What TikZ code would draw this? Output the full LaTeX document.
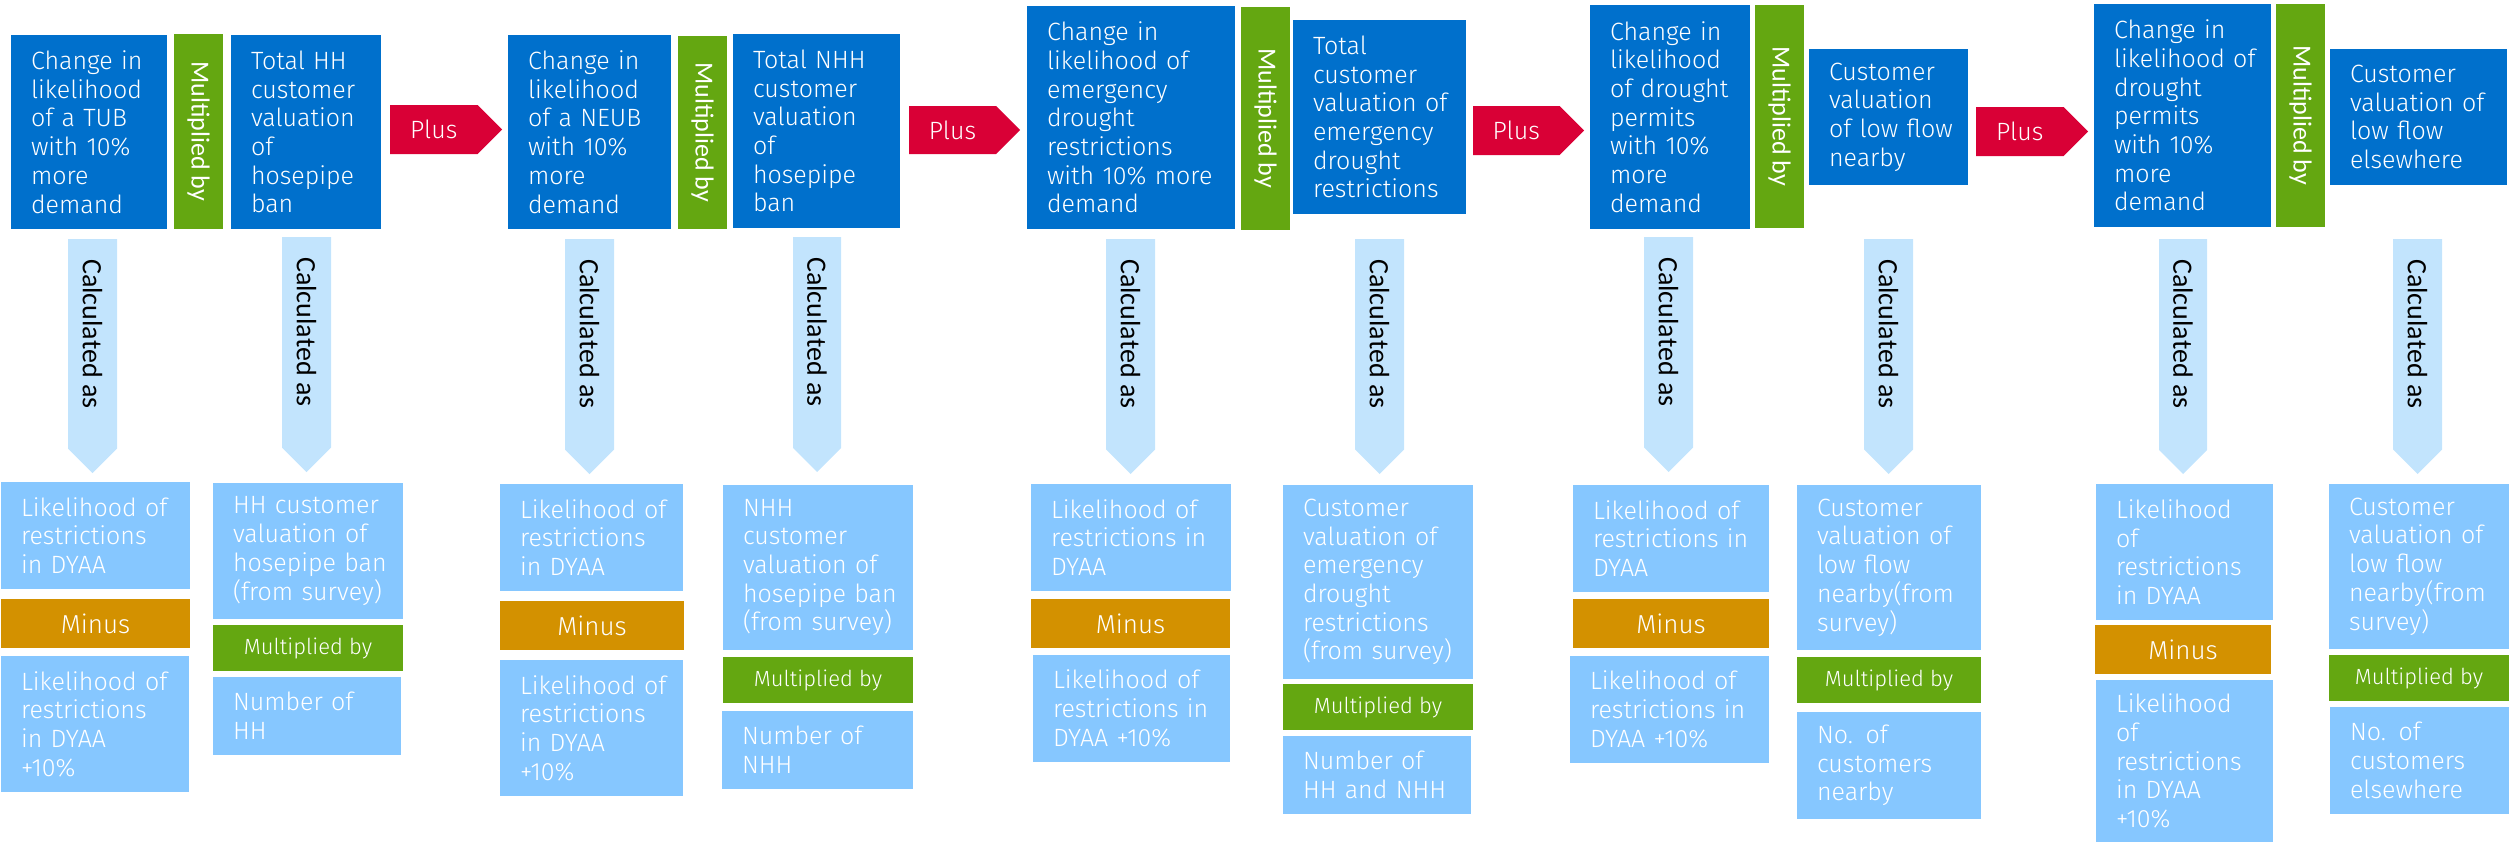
\documentclass[tikz,border=0pt]{standalone}
\usepackage{fontspec}
\IfFontExistsTF{Fira Sans Light}
  {\setmainfont{Fira Sans Light}}
  {\IfFontExistsTF{FiraSans-Light.otf}
    {\setmainfont{FiraSans-Light.otf}}
    {\setmainfont{Fira Sans}}}
\newfontfamily\narrowfont{Carlito}
\begin{document}
\begin{tikzpicture}[x=1pt,y=-1pt]
\definecolor{deepblue}{RGB}{0,112,204}
\definecolor{leafgreen}{RGB}{100,167,17}
\definecolor{plusred}{RGB}{217,0,54}
\definecolor{skyblue}{RGB}{134,199,255}
\definecolor{paleblue}{RGB}{194,228,253}
\definecolor{ochre}{RGB}{211,145,0}
\tikzset{
  blk/.style={inner xsep=0pt, inner ysep=0pt, align=left, text=white,
    font=\fontsize{25}{28.7}\selectfont},
  topbox/.style={blk, fill=deepblue},
  subbox/.style={blk, fill=skyblue},
  tag/.style={inner sep=0pt, align=center, text=white},
  minusbar/.style={tag, fill=ochre, font=\fontsize{26}{30}\selectfont},
  multbar/.style={tag, fill=leafgreen, font=\fontsize{22}{26}\selectfont},
  multcol/.style={tag, fill=leafgreen, rotate=-90, font=\narrowfont\fontsize{26}{30}\selectfont},
  pluslabel/.style={inner sep=0pt, text=white, font=\fontsize{25}{30}\selectfont},
  calclabel/.style={inner sep=0pt, text=black, rotate=-90, anchor=west,
    font=\narrowfont\fontsize{28}{32}\selectfont},
}
% text box: style, name, x1, y1, x2, y2, text (20pt left padding)
\newcommand\Blk[7]{%
  \pgfmathsetmacro\bw{#5-#3}%
  \pgfmathsetmacro\bh{#6-#4}%
  \pgfmathsetmacro\bx{(#3+#5)/2}%
  \pgfmathsetmacro\by{(#4+#6)/2}%
  \pgfmathsetmacro\tw{#5-#3-20}%
  \node[#1, minimum width=\bw pt, minimum height=\bh pt, text width=\tw pt]
    (#2) at (\bx,\by) {\leftskip=10pt\relax #7\par};}
% centred operator bar: style, name, x1, y1, x2, y2, text
\newcommand\Bar[7]{%
  \pgfmathsetmacro\bw{#5-#3}%
  \pgfmathsetmacro\bh{#6-#4}%
  \pgfmathsetmacro\bx{(#3+#5)/2}%
  \pgfmathsetmacro\by{(#4+#6)/2}%
  \node[#1, minimum width=\bw pt, minimum height=\bh pt] (#2) at (\bx,\by) {#7};}
% upright green column with text running downwards
\newcommand\Col[5]{%
  \pgfmathsetmacro\bw{#4-#2}%
  \pgfmathsetmacro\bh{#5-#3}%
  \pgfmathsetmacro\bx{(#2+#4)/2}%
  \pgfmathsetmacro\by{(#3+#5)/2}%
  \node[multcol, minimum width=\bh pt, minimum height=\bw pt] (#1) at (\bx,\by) {Multiplied by};}
% red "Plus" arrow pointing right: name, x1, y1, x2 (tip), y2
\newcommand\PlusArrow[5]{%
  \pgfmathsetmacro\hh{(#5-#3)/2}%
  \pgfmathsetmacro\cy{(#3+#5)/2}%
  \pgfmathsetmacro\tx{#4-\hh}%
  \pgfmathsetmacro\lx{(#2+\tx)/2}%
  \fill[plusred] (#2,#3) -- (\tx,#3) -- (#4,\cy) -- (\tx,#5) -- (#2,#5) -- cycle;
  \node[pluslabel] (#1) at (\lx,\cy) {Plus};}
% pale "Calculated as" arrow pointing down: name, x1, y1, x2, y2 (tip)
\newcommand\CalcArrow[5]{%
  \pgfmathsetmacro\hw{(#4-#2)/2}%
  \pgfmathsetmacro\cx{(#2+#4)/2}%
  \pgfmathsetmacro\ty{#5-\hw}%
  \fill[paleblue] (#2,#3) -- (#4,#3) -- (#4,\ty) -- (\cx,#5) -- (#2,\ty) -- cycle;
  \node[calclabel] (#1) at (\cx,#3+20) {Calculated as};}

\useasboundingbox (0,0) rectangle (2509,844);

% ---- hosepipe ban, households ----
\Blk{topbox}{a1}{11}{35}{167}{229}{Change in\\likelihood\\of a TUB\\with 10\%\\more\\demand}
\Col{g1}{174}{34}{223}{229}
\Blk{topbox}{b1}{231}{35}{381}{229}{Total HH\\customer\\valuation\\of\\hosepipe\\ban}
\PlusArrow{p1}{390}{105}{502}{154}
\CalcArrow{d1}{68}{239}{117}{473}
\CalcArrow{d2}{282}{237}{331}{472}
\Blk{subbox}{l1a}{1}{482}{190}{589}{Likelihood of\\restrictions\\in DYAA}
\Bar{minusbar}{m1}{1}{599}{190}{648}{Minus}
\Blk{subbox}{l1b}{1}{656}{189}{792}{Likelihood of\\restrictions\\in DYAA\\+10\%}
\Blk{subbox}{r1a}{213}{483}{403}{619}{HH customer\\valuation of\\hosepipe ban\\(from survey)}
\Bar{multbar}{r1m}{213}{625}{403}{671}{Multiplied by}
\Blk{subbox}{r1b}{213}{677}{401}{755}{Number of\\HH}

% ---- hosepipe ban, non-households ----
\Blk{topbox}{a2}{508}{35}{671}{229}{Change in\\likelihood\\of a NEUB\\with 10\%\\more\\demand}
\Col{g2}{678}{36}{727}{229}
\Blk{topbox}{b2}{733}{34}{900}{228}{Total NHH\\customer\\valuation\\of\\hosepipe\\ban}
\PlusArrow{p2}{909}{106}{1020}{154}
\CalcArrow{d3}{565}{239}{614}{474}
\CalcArrow{d4}{793}{237}{841}{472}
\Blk{subbox}{l2a}{500}{484}{683}{591}{Likelihood of\\restrictions\\in DYAA}
\Bar{minusbar}{m2}{500}{601}{684}{650}{Minus}
\Blk{subbox}{l2b}{500}{660}{683}{796}{Likelihood of\\restrictions\\in DYAA\\+10\%}
\Blk{subbox}{r2a}{723}{485}{913}{650}{NHH\\customer\\valuation of\\hosepipe ban\\(from survey)}
\Bar{multbar}{r2m}{723}{657}{913}{703}{Multiplied by}
\Blk{subbox}{r2b}{722}{711}{913}{789}{Number of\\NHH}

% ---- emergency drought restrictions ----
\Blk{topbox}{a3}{1027}{6}{1235}{229}{Change in\\likelihood of\\emergency\\drought\\restrictions\\with 10\% more\\demand}
\Col{g3}{1241}{7}{1290}{230}
\Blk{topbox}{b3}{1293}{20}{1466}{214}{Total\\customer\\valuation of\\emergency\\drought\\restrictions}
\PlusArrow{p3}{1473}{106}{1584}{155}
\CalcArrow{d5}{1106}{239}{1155}{474}
\CalcArrow{d6}{1355}{239}{1404}{474}
\Blk{subbox}{l3a}{1031}{484}{1231}{591}{Likelihood of\\restrictions in\\DYAA}
\Bar{minusbar}{m3}{1031}{599}{1230}{648}{Minus}
\Blk{subbox}{l3b}{1033}{655}{1230}{762}{Likelihood of\\restrictions in\\DYAA +10\%}
\Blk{subbox}{r3a}{1283}{485}{1473}{679}{Customer\\valuation of\\emergency\\drought\\restrictions\\(from survey)}
\Bar{multbar}{r3m}{1283}{684}{1473}{730}{Multiplied by}
\Blk{subbox}{r3b}{1283}{736}{1471}{814}{Number of\\HH and NHH}

% ---- drought permits, low flow nearby ----
\Blk{topbox}{a4}{1590}{5}{1750}{229}{Change in\\likelihood\\of drought\\permits\\with 10\%\\more\\demand}
\Col{g4}{1755}{5}{1804}{228}
\Blk{topbox}{b4}{1809}{49}{1968}{185}{Customer\\valuation\\of low flow\\nearby}
\PlusArrow{p4}{1976}{107}{2088}{156}
\CalcArrow{d7}{1644}{237}{1693}{472}
\CalcArrow{d8}{1864}{239}{1913}{474}
\Blk{subbox}{l4a}{1573}{485}{1769}{592}{Likelihood of\\restrictions in\\DYAA}
\Bar{minusbar}{m4}{1573}{599}{1769}{648}{Minus}
\Blk{subbox}{l4b}{1570}{656}{1769}{763}{Likelihood of\\restrictions in\\DYAA +10\%}
\Blk{subbox}{r4a}{1797}{485}{1981}{650}{Customer\\valuation of\\low flow\\nearby(from\\survey)}
\Bar{multbar}{r4m}{1797}{657}{1981}{703}{Multiplied by}
\Blk{subbox}{r4b}{1797}{712}{1981}{819}{No. of\\customers\\nearby}

% ---- drought permits, low flow elsewhere ----
\Blk{topbox}{a5}{2094}{4}{2271}{227}{Change in\\likelihood of\\drought\\permits\\with 10\%\\more\\demand}
\Col{g5}{2276}{4}{2325}{227}
\Blk{topbox}{b5}{2330}{49}{2507}{185}{Customer\\valuation of\\low flow\\elsewhere}
\CalcArrow{d9}{2159}{239}{2207}{474}
\CalcArrow{d10}{2393}{239}{2442}{474}
\Blk{subbox}{l5a}{2096}{484}{2273}{620}{Likelihood\\of\\restrictions\\in DYAA}
\Bar{minusbar}{m5}{2095}{625}{2271}{674}{Minus}
\Blk{subbox}{l5b}{2096}{680}{2273}{842}{Likelihood\\of\\restrictions\\in DYAA\\+10\%}
\Blk{subbox}{r5a}{2329}{484}{2509}{649}{Customer\\valuation of\\low flow\\nearby(from\\survey)}
\Bar{multbar}{r5m}{2329}{655}{2509}{701}{Multiplied by}
\Blk{subbox}{r5b}{2330}{707}{2509}{814}{No. of\\customers\\elsewhere}
\end{tikzpicture}
\end{document}
